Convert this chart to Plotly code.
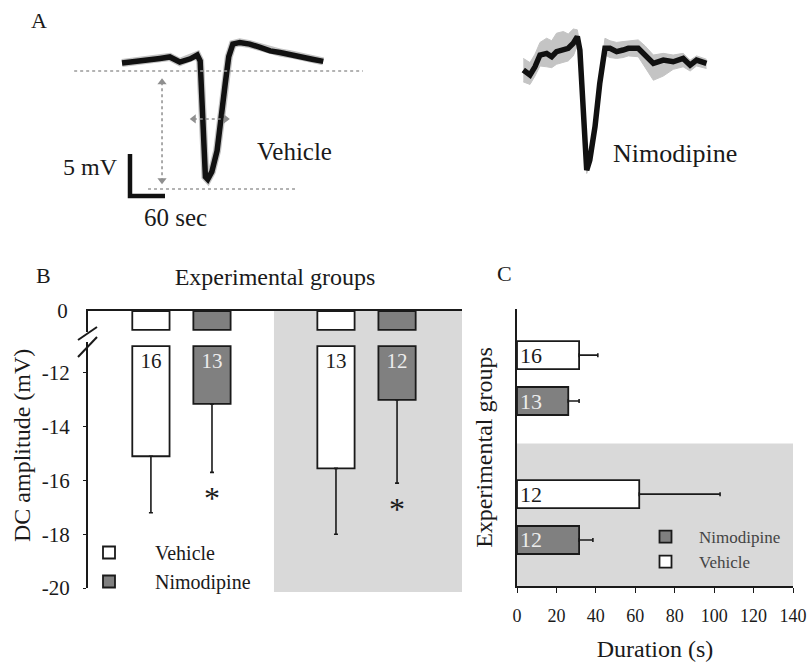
import numpy as np
import plotly.graph_objects as go

W, H = 811, 664
def PX(x): return x / W
def PY(y): return 1 - y / H

FONT = "Liberation Serif, Times New Roman, serif"
INK = "#1a1a1a"
GRAY_BAR = "#808080"
SHADE = "#d9d9d9"

# ---------------- Panel A: averaged DC shifts (time in s, voltage in mV) ----------------
veh_t = [0, 24, 48, 65, 82, 99, 117, 129, 134, 136, 139, 141, 143, 147, 154, 163, 170, 177,
         183, 190, 202, 219, 237, 254, 271, 288, 305, 326, 345]
veh_mv = [0.95, 1.1, 1.31, 1.5, 1.67, 1.07, 1.45, 1.9, 1.2, -2.0, -7.0, -10.8, -12.6, -12.9,
          -12.0, -9.5, -6.0, -1.5, 1.7, 3.2, 3.4, 3.2, 2.8, 2.4, 2.2, 2.0, 1.7, 1.4, 1.15]

nim_t = [0, 11.5, 20, 28.6, 40, 48.7, 57, 68.6, 77, 85.7, 92.6, 97, 102, 106, 108.7, 114, 123,
         131, 140, 148.6, 160, 171, 180, 197, 208.6, 223, 240, 257, 274, 286, 297, 314]
nim_mv = [0.12, -0.48, 0.5, 1.9, 2.1, 1.7, 2.3, 2.5, 2.7, 3.3, 4.1, 2.5, -3.45, -9.4, -11.8,
          -10.6, -6.6, -1.5, 2.7, 2.7, 2.3, 2.5, 2.7, 2.7, 1.9, 0.9, 1.3, 1.1, 1.5, 0.7, 1.3, 0.9]
nim_hi = [1.5, 1.0, 2.0, 3.4, 3.9, 3.6, 4.5, 4.7, 4.4, 5.0, 4.9, 3.2, -3.0, -9.0, -11.4, -10.2,
          -6.2, -1.0, 3.9, 3.6, 3.4, 3.5, 3.6, 3.7, 3.0, 1.9, 2.1, 1.9, 2.1, 1.3, 1.8, 1.4]
nim_lo = [-1.3, -1.6, -0.6, 0.6, 0.5, 0.4, 0.8, 1.0, 1.2, 1.8, 3.0, 1.8, -3.9, -9.8, -12.2, -11.0,
          -7.0, -2.0, 1.9, 1.6, 1.5, 1.6, 1.8, 1.7, 0.5, -1.1, -0.6, 0.2, 0.5, 0.0, 0.6, 0.3]

SCALE_SEC = 60
SCALE_MV = 5

# ---------------- Panel B: DC amplitude ----------------
groups = ["Group I", "Group II"]
b_vehicle = [-15.1, -15.55]
b_vehicle_sd = [2.1, 2.45]
b_vehicle_n = ["16", "13"]
b_nimo = [-13.15, -13.0]
b_nimo_sd = [2.55, 3.1]
b_nimo_n = ["13", "12"]
b_nimo_sig = ["*", "*"]
b_ticks = [-20, -18, -16, -14, -12]

# ---------------- Panel C: duration ----------------
c_vehicle = [31.5, 62]
c_vehicle_err = [9.5, 41]
c_vehicle_n = ["16", "12"]
c_nimo = [26, 31.5]
c_nimo_err = [5.5, 7]
c_nimo_n = ["13", "12"]
c_ticks = [0, 20, 40, 60, 80, 100, 120, 140]

# ---------------- layout constants ----------------
A_PX_PER_S = 35 / 60.0
A_PX_PER_MV = 42 / 5.0
A_T_AT_LEFT = -122 / A_PX_PER_S
A_T_AT_RIGHT = (W - 122) / A_PX_PER_S
A_MV_TOP = 71 / A_PX_PER_MV
A_MV_BOT = -(230 - 71) / A_PX_PER_MV
NIM_OFFSET = (523.3 - 122) / A_PX_PER_S

BREAK_TOP = -11.0
STUB = -0.7
B_XRANGE = [-0.505, 1.516]
C_YRANGE = [-0.496, 1.497]

fig = go.Figure()

# ---- Panel A traces ----
axA = dict(xaxis="x4", yaxis="y4", showlegend=False, hoverinfo="skip")
fig.add_trace(go.Scatter(x=veh_t, y=veh_mv, mode="lines",
                         line=dict(color="#c4c4c4", width=8), **axA))
fig.add_trace(go.Scatter(x=veh_t, y=veh_mv, mode="lines",
                         line=dict(color="#111111", width=5.5), **axA))
nim_x = [t + NIM_OFFSET for t in nim_t]
fig.add_trace(go.Scatter(x=nim_x, y=nim_lo, mode="lines",
                         line=dict(color="#c4c4c4", width=1), **axA))
fig.add_trace(go.Scatter(x=nim_x, y=nim_hi, mode="lines", fill="tonexty",
                         fillcolor="#c4c4c4", line=dict(color="#c4c4c4", width=1), **axA))
fig.add_trace(go.Scatter(x=nim_x, y=nim_mv, mode="lines",
                         line=dict(color="#111111", width=5.5), **axA))

# amplitude arrow and duration arrow
AMP_T = 68.6
fig.add_trace(go.Scatter(x=[AMP_T, AMP_T], y=[-1.35, -13.0], mode="lines+markers",
                         line=dict(color="#8f8f8f", width=1.5, dash="dot"),
                         marker=dict(symbol=["triangle-up", "triangle-down"], size=8, color="#8f8f8f"),
                         **axA))
fig.add_trace(go.Scatter(x=[123, 178], y=[-5.71, -5.71], mode="lines+markers",
                         line=dict(color="#8f8f8f", width=1.5, dash="dot"),
                         marker=dict(symbol=["triangle-left", "triangle-right"], size=8, color="#8f8f8f"),
                         **axA))
# scale bar
SB_T0, SB_V0 = 13.7, -14.88
fig.add_trace(go.Scatter(x=[SB_T0, SB_T0, SB_T0 + SCALE_SEC],
                         y=[SB_V0 + SCALE_MV, SB_V0, SB_V0], mode="lines",
                         line=dict(color="#111111", width=4.5), **axA))

# ---- Panel B traces ----
fig.add_trace(go.Bar(x=groups, y=np.maximum(b_vehicle, STUB), xaxis="x", yaxis="y2",
                     marker=dict(color="white", line=dict(color=INK, width=1.8)),
                     showlegend=False, hoverinfo="skip"))
fig.add_trace(go.Bar(x=groups, y=np.maximum(b_nimo, STUB), xaxis="x", yaxis="y2",
                     marker=dict(color=GRAY_BAR, line=dict(color=INK, width=1.8)),
                     showlegend=False, hoverinfo="skip"))
fig.add_trace(go.Bar(x=groups, y=np.array(b_vehicle) - BREAK_TOP, base=BREAK_TOP,
                     xaxis="x", yaxis="y", name="Vehicle", legend="legend",
                     marker=dict(color="white", line=dict(color=INK, width=1.8)),
                     text=b_vehicle_n, textposition="inside", insidetextanchor="start",
                     textangle=0, constraintext="none",
                     textfont=dict(family=FONT, size=21, color=INK),
                     error_y=dict(type="data", symmetric=False, array=[0, 0],
                                  arrayminus=b_vehicle_sd, color=INK, thickness=1.6, width=2)))
fig.add_trace(go.Bar(x=groups, y=np.array(b_nimo) - BREAK_TOP, base=BREAK_TOP,
                     xaxis="x", yaxis="y", name="Nimodipine", legend="legend",
                     marker=dict(color=GRAY_BAR, line=dict(color=INK, width=1.8)),
                     text=b_nimo_n, textposition="inside", insidetextanchor="start",
                     textangle=0, constraintext="none",
                     textfont=dict(family=FONT, size=21, color="#ececec"),
                     error_y=dict(type="data", symmetric=False, array=[0, 0],
                                  arrayminus=b_nimo_sd, color=INK, thickness=1.6, width=2)))

# ---- Panel C traces ----
fig.add_trace(go.Bar(y=groups, x=c_nimo, orientation="h", xaxis="x3", yaxis="y3",
                     name="Nimodipine", legend="legend2",
                     marker=dict(color=GRAY_BAR, line=dict(color=INK, width=1.8)),
                     text=c_nimo_n, textposition="inside", insidetextanchor="start",
                     textangle=0, constraintext="none",
                     textfont=dict(family=FONT, size=22, color="#ececec"),
                     error_x=dict(type="data", symmetric=False, array=c_nimo_err,
                                  arrayminus=[0, 0], color=INK, thickness=1.6, width=2)))
fig.add_trace(go.Bar(y=groups, x=c_vehicle, orientation="h", xaxis="x3", yaxis="y3",
                     name="Vehicle", legend="legend2",
                     marker=dict(color="white", line=dict(color=INK, width=1.8)),
                     text=c_vehicle_n, textposition="inside", insidetextanchor="start",
                     textangle=0, constraintext="none",
                     textfont=dict(family=FONT, size=22, color=INK),
                     error_x=dict(type="data", symmetric=False, array=c_vehicle_err,
                                  arrayminus=[0, 0], color=INK, thickness=1.6, width=2)))

shapes = [
    # Panel A dotted reference lines
    dict(type="line", xref="x4", yref="y4", x0=-82, x1=413, y0=0, y1=0,
         line=dict(color="#9a9a9a", width=1.5, dash="dot")),
    dict(type="line", xref="x4", yref="y4", x0=44.6, x1=296.6, y0=-14.05, y1=-14.05,
         line=dict(color="#9a9a9a", width=1.5, dash="dot")),
    # Panel B shading
    dict(type="rect", xref="x", yref="paper", x0=0.5, x1=B_XRANGE[1], y0=PY(592), y1=PY(311),
         fillcolor=SHADE, line=dict(width=0), layer="below"),
    # axis break marks
    dict(type="line", xref="paper", yref="paper", x0=PX(78), y0=PY(340), x1=PX(97), y1=PY(327),
         line=dict(color=INK, width=2)),
    dict(type="line", xref="paper", yref="paper", x0=PX(78), y0=PY(357), x1=PX(97), y1=PY(337),
         line=dict(color=INK, width=2)),
    # Panel C shading
    dict(type="rect", xref="x3", yref="y3", x0=0, x1=140, y0=C_YRANGE[0], y1=0.53,
         fillcolor=SHADE, line=dict(width=0), layer="below"),
]

def note(text, x, y, size, **kw):
    d = dict(text=text, x=PX(x), y=PY(y), xref="paper", yref="paper", showarrow=False,
             font=dict(family=FONT, size=size, color=INK), xanchor="center", yanchor="middle")
    d.update(kw)
    return d

annotations = [
    note("A", 39, 20, 22),
    note("Vehicle", 294, 152, 25),
    note("Nimodipine", 675, 153, 26),
    note("5 mV", 90, 167, 24),
    note("60 sec", 175, 218, 25),
    note("B", 43, 275, 22),
    note("C", 504, 273, 22),
    note("DC amplitude (mV)", 22, 446, 24, textangle=-90),
]
for g, v, sd, s in zip(groups, b_nimo, b_nimo_sd, b_nimo_sig):
    annotations.append(dict(text=s, x=g, y=v - sd - 0.8, xref="x", yref="y", showarrow=False,
                            xshift=30.5, yshift=-4, xanchor="center", yanchor="middle",
                            font=dict(family=FONT, size=32, color=INK)))

axis_common = dict(showgrid=False, zeroline=False, linecolor=INK, linewidth=2,
                   tickcolor=INK, tickfont=dict(family=FONT, size=21, color=INK))

fig.update_layout(
    width=W, height=H, margin=dict(l=0, r=0, t=0, b=0, autoexpand=False),
    paper_bgcolor="white", plot_bgcolor="rgba(0,0,0,0)",
    font=dict(family=FONT, color=INK),
    barmode="group", bargap=0.34, bargroupgap=0.39,
    showlegend=True,
    xaxis=dict(domain=[PX(88), PX(462)], anchor="y2", side="top", range=B_XRANGE,
               showline=True, ticks="", showticklabels=False,
               categoryorder="array", categoryarray=groups,
               title=dict(text="Experimental groups", font=dict(family=FONT, size=24, color=INK),
                          standoff=17),
               **axis_common),
    yaxis2=dict(domain=[PY(332), PY(311)], range=[-0.78, 0], anchor="x", showline=True,
                tickvals=[0], ticktext=["0"], ticks="", ticklabelstandoff=14, **axis_common),
    yaxis=dict(domain=[PY(588), PY(342)], range=[-20, -10.85], anchor="x", showline=True,
               tickvals=b_ticks, ticktext=[str(t) for t in b_ticks], ticks="outside", ticklen=3,
               ticklabelstandoff=9, **axis_common),
    xaxis3=dict(domain=[PX(517), PX(793)], range=[0, 140], anchor="y3", showline=True,
                ticks="outside", ticklen=5, tickvals=c_ticks, ticktext=[str(t) for t in c_ticks],
                ticklabelstandoff=7,
                title=dict(text="Duration (s)", font=dict(family=FONT, size=24, color=INK), standoff=16),
                **{**axis_common, "tickfont": dict(family=FONT, size=18, color=INK)}),
    yaxis3=dict(domain=[PY(586), PY(309)], range=C_YRANGE, anchor="x3", showline=True,
                showticklabels=False, ticks="", categoryorder="array",
                categoryarray=[groups[1], groups[0]],
                title=dict(text="Experimental groups", font=dict(family=FONT, size=24, color=INK),
                           standoff=16),
                **axis_common),
    xaxis4=dict(domain=[0, 1], range=[A_T_AT_LEFT, A_T_AT_RIGHT], anchor="y4", visible=False),
    yaxis4=dict(domain=[PY(230), 1], range=[A_MV_BOT, A_MV_TOP], anchor="x4", visible=False),
    legend=dict(x=PX(63), y=PY(533), xanchor="left", yanchor="top", bgcolor="rgba(0,0,0,0)",
                font=dict(family=FONT, size=20, color=INK), itemwidth=82, tracegroupgap=0,
                traceorder="normal"),
    legend2=dict(x=PX(632), y=PY(519), xanchor="left", yanchor="top", bgcolor="rgba(0,0,0,0)",
                 font=dict(family=FONT, size=17, color="#444444"), itemwidth=57, tracegroupgap=0,
                 traceorder="normal"),
    shapes=shapes,
    annotations=annotations,
)

fig.write_html("out.html",
               post_script="document.body.style.margin='0';document.body.style.overflow='hidden';")
